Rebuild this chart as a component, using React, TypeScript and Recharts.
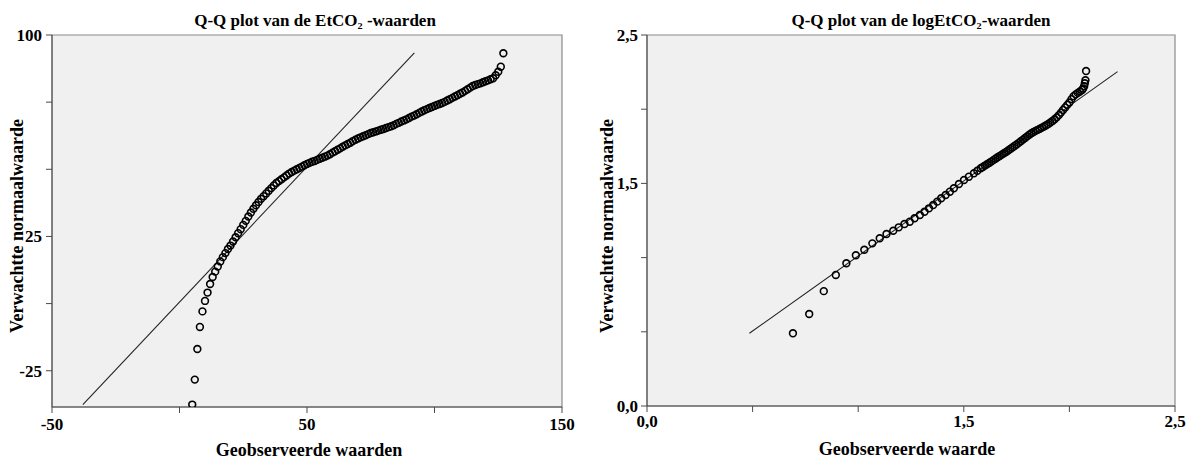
import React from 'react';
import { ScatterChart, Scatter, XAxis, YAxis, ReferenceArea, ReferenceLine } from 'recharts';

const FONT = '"Liberation Serif", "Times New Roman", serif';

// Left chart: EtCO2 observed values vs expected normal values
const leftObserved = [5, 6, 7, 8, 9, 10, 11, 12, 13, 14, 15, 16, 17, 18, 19, 20, 21, 22, 23, 24, 25, 26, 27, 28, 29, 30, 31, 32, 33, 34, 35, 36, 37, 38, 39, 40, 41, 42, 43, 44, 45, 46, 47, 48, 49, 50, 51, 52, 53, 54, 55, 56, 57, 58, 59, 60, 61, 62, 63, 64, 65, 66, 67, 68, 69, 70, 71, 72, 73, 74, 75, 76, 77, 78, 79, 80, 81, 82, 83, 84, 85, 86, 87, 88, 89, 90, 91, 92, 93, 94, 95, 96, 97, 98, 99, 100, 101, 102, 103, 104, 105, 106, 107, 108, 109, 110, 111, 112, 113, 114, 115, 116, 117, 118, 119, 120, 121, 122, 123, 124, 125, 126, 127];
const leftExpected = [-37.6, -28.3, -16.9, -8.7, -2.9, 1.0, 4.1, 7.3, 9.9, 11.9, 13.8, 15.7, 17.3, 18.8, 20.3, 21.6, 23.1, 24.7, 26.2, 27.7, 29.3, 30.8, 32.4, 33.9, 35.3, 36.6, 37.8, 39.0, 40.0, 41.0, 42.0, 43.0, 44.0, 44.9, 45.6, 46.3, 47.0, 47.7, 48.4, 49.0, 49.5, 50.0, 50.5, 51.0, 51.5, 52.0, 52.4, 52.8, 53.1, 53.5, 53.9, 54.3, 54.7, 55.1, 55.6, 56.2, 56.7, 57.3, 57.8, 58.4, 58.9, 59.4, 59.9, 60.5, 61.0, 61.5, 61.9, 62.3, 62.7, 63.1, 63.5, 63.8, 64.1, 64.4, 64.7, 65.0, 65.4, 65.7, 66.0, 66.4, 66.9, 67.3, 67.8, 68.2, 68.6, 69.1, 69.6, 70.0, 70.5, 71.0, 71.5, 72.0, 72.4, 72.8, 73.2, 73.6, 74.0, 74.3, 74.7, 75.1, 75.6, 76.1, 76.6, 77.1, 77.6, 78.1, 78.6, 79.2, 79.8, 80.4, 81.0, 81.4, 81.7, 82.0, 82.4, 82.8, 83.1, 83.5, 83.9, 85.0, 86.3, 88.2, 93.2];
const leftLineX = [-37.9, 92.1];
const leftLineY = [-37.6, 93.3];
const leftXTicks = [-50, 0, 50, 100, 150];
const leftXLabeled = [-50, 50, 150];
const leftYTicks = [-25, 0, 25, 50, 75, 100];
const leftYLabeled = [-25, 25, 100];
const leftXDomain = [-50, 150];
const leftYDomain = [-38.5, 100];

// Right chart: logEtCO2 observed values vs expected normal values
const rightObserved = [0.691, 0.768, 0.837, 0.894, 0.944, 0.989, 1.029, 1.067, 1.102, 1.134, 1.166, 1.192, 1.219, 1.244, 1.267, 1.292, 1.314, 1.335, 1.355, 1.374, 1.393, 1.414, 1.434, 1.453, 1.477, 1.501, 1.524, 1.548, 1.564, 1.58, 1.59, 1.6, 1.61, 1.62, 1.63, 1.64, 1.65, 1.66, 1.67, 1.68, 1.69, 1.7, 1.71, 1.72, 1.73, 1.74, 1.75, 1.76, 1.77, 1.78, 1.79, 1.8, 1.81, 1.82, 1.83, 1.84, 1.85, 1.86, 1.87, 1.88, 1.89, 1.9, 1.91, 1.92, 1.93, 1.94, 1.95, 1.96, 1.97, 1.98, 1.99, 2.0, 2.01, 2.02, 2.03, 2.04, 2.05, 2.06, 2.065, 2.07, 2.073, 2.076, 2.079];
const rightExpected = [0.49, 0.62, 0.774, 0.883, 0.962, 1.016, 1.053, 1.096, 1.13, 1.159, 1.181, 1.204, 1.226, 1.242, 1.265, 1.287, 1.309, 1.332, 1.354, 1.377, 1.4, 1.422, 1.444, 1.467, 1.496, 1.523, 1.545, 1.568, 1.585, 1.602, 1.611, 1.62, 1.629, 1.638, 1.647, 1.657, 1.666, 1.676, 1.685, 1.694, 1.703, 1.712, 1.722, 1.732, 1.742, 1.752, 1.762, 1.773, 1.784, 1.795, 1.806, 1.817, 1.828, 1.838, 1.846, 1.854, 1.861, 1.868, 1.876, 1.884, 1.892, 1.9, 1.91, 1.921, 1.932, 1.945, 1.96, 1.977, 1.995, 2.012, 2.029, 2.045, 2.068, 2.088, 2.1, 2.11, 2.119, 2.13, 2.14, 2.155, 2.175, 2.195, 2.257];
const rightLineX = [0.485, 2.228];
const rightLineY = [0.49, 2.253];
const rightTicks = [0, 0.5, 1, 1.5, 2, 2.5];
const rightLabeled = [0, 1.5, 2.5];
const rightDomain = [0, 2.5];

const leftData = leftObserved.map((x, i) => ({ x, y: leftExpected[i] }));
const rightData = rightObserved.map((x, i) => ({ x, y: rightExpected[i] }));

const tickStyle = { fill: '#000', fontSize: 17, fontWeight: 700, fontFamily: FONT };
const AXIS = '#4a4a4a';

const Ring = (props: any) => {
  const { cx, cy } = props;
  if (cx == null || cy == null) return null;
  return <circle cx={cx} cy={cy} r={3.4} fill="none" stroke="#000" strokeWidth={1.6} />;
};

const textBase: React.CSSProperties = {
  position: 'absolute',
  fontFamily: FONT,
  fontWeight: 700,
  color: '#000',
  whiteSpace: 'nowrap',
  textAlign: 'center',
};

function HText({ cx, cy, size, children }: { cx: number; cy: number; size: number; children: React.ReactNode }) {
  const w = 400;
  const h = size + 6;
  return (
    <div style={{ ...textBase, left: cx - w / 2, top: cy - h / 2, width: w, height: h, lineHeight: `${h}px`, fontSize: size }}>
      {children}
    </div>
  );
}

function VText({ cx, cy, size, children }: { cx: number; cy: number; size: number; children: React.ReactNode }) {
  const w = 300;
  const h = size + 6;
  return (
    <div
      style={{
        ...textBase,
        left: cx - w / 2,
        top: cy - h / 2,
        width: w,
        height: h,
        lineHeight: `${h}px`,
        fontSize: size,
        transform: 'rotate(-90deg)',
      }}
    >
      {children}
    </div>
  );
}

const fmtComma = (v: number) => v.toFixed(1).replace('.', ',');

export default function App() {
  return (
    <div style={{ position: 'absolute', left: 0, top: 0, width: 1187, height: 460, background: '#fff', overflow: 'hidden' }}>
      <div style={{ position: 'absolute', left: 0, top: 0 }}>
        <ScatterChart width={600} height={460} margin={{ top: 35, right: 38, bottom: 23, left: 0 }}>
          <XAxis
            type="number"
            dataKey="x"
            domain={leftXDomain}
            ticks={leftXTicks}
            allowDataOverflow
            height={30}
            tick={tickStyle}
            tickSize={6}
            tickMargin={5}
            stroke={AXIS}
            tickFormatter={(v: number) => (leftXLabeled.includes(v) ? String(v) : '')}
          />
          <YAxis
            type="number"
            dataKey="y"
            domain={leftYDomain}
            ticks={leftYTicks}
            allowDataOverflow
            width={52}
            tick={tickStyle}
            tickSize={6}
            tickMargin={4}
            stroke={AXIS}
            tickFormatter={(v: number) => (leftYLabeled.includes(v) ? String(v) : '')}
          />
          <ReferenceArea
            x1={leftXDomain[0]}
            x2={leftXDomain[1]}
            y1={leftYDomain[0]}
            y2={leftYDomain[1]}
            fill="#f0f0f0"
            fillOpacity={1}
            stroke="#8a8a8a"
            strokeWidth={1.2}
          />
          <ReferenceLine
            segment={[
              { x: leftLineX[0], y: leftLineY[0] },
              { x: leftLineX[1], y: leftLineY[1] },
            ]}
            stroke="#222"
            strokeWidth={1.1}
          />
          <Scatter data={leftData} shape={Ring} isAnimationActive={false} />
        </ScatterChart>
      </div>
      <div style={{ position: 'absolute', left: 600, top: 0 }}>
        <ScatterChart width={587} height={460} margin={{ top: 35, right: 12, bottom: 24, left: 0 }}>
          <XAxis
            type="number"
            dataKey="x"
            domain={rightDomain}
            ticks={rightTicks}
            allowDataOverflow
            height={30}
            tick={tickStyle}
            tickSize={6}
            tickMargin={3}
            stroke={AXIS}
            tickFormatter={(v: number) => (rightLabeled.includes(v) ? fmtComma(v) : '')}
          />
          <YAxis
            type="number"
            dataKey="y"
            domain={rightDomain}
            ticks={rightTicks}
            allowDataOverflow
            width={47}
            tick={tickStyle}
            tickSize={6}
            tickMargin={3}
            stroke={AXIS}
            tickFormatter={(v: number) => (rightLabeled.includes(v) ? fmtComma(v) : '')}
          />
          <ReferenceArea
            x1={rightDomain[0]}
            x2={rightDomain[1]}
            y1={rightDomain[0]}
            y2={rightDomain[1]}
            fill="#f0f0f0"
            fillOpacity={1}
            stroke="#8a8a8a"
            strokeWidth={1.2}
          />
          <ReferenceLine
            segment={[
              { x: rightLineX[0], y: rightLineY[0] },
              { x: rightLineX[1], y: rightLineY[1] },
            ]}
            stroke="#222"
            strokeWidth={1.1}
          />
          <Scatter data={rightData} shape={Ring} isAnimationActive={false} />
        </ScatterChart>
      </div>
      <HText cx={315} cy={20} size={17}>Q-Q plot van de EtCO₂ -waarden</HText>
      <HText cx={921} cy={20} size={17}>Q-Q plot van de logEtCO₂-waarden</HText>
      <HText cx={309} cy={450} size={18}>Geobserveerde waarden</HText>
      <HText cx={907} cy={449} size={18}>Geobserveerde waarde</HText>
      <VText cx={17} cy={226} size={18}>Verwachtte normaalwaarde</VText>
      <VText cx={607} cy={226} size={18}>Verwachtte normaalwaarde</VText>
    </div>
  );
}
